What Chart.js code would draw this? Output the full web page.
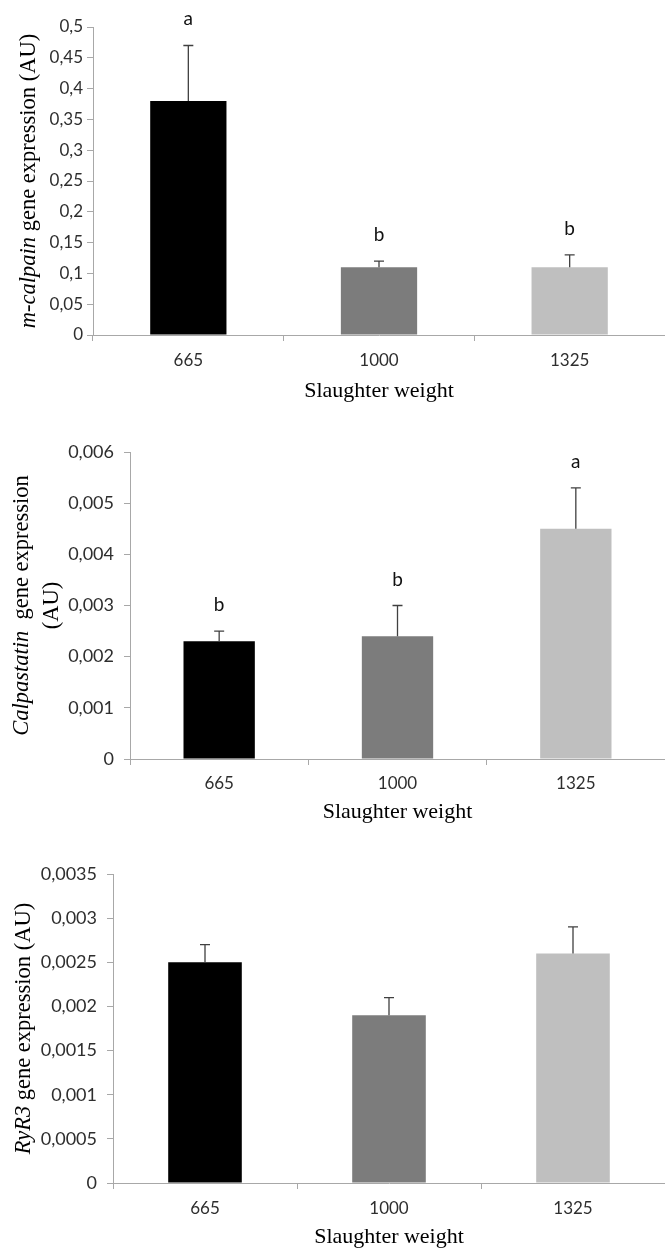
<!DOCTYPE html>
<html>
<head>
<meta charset="utf-8">
<script src="https://cdn.jsdelivr.net/npm/chart.js@4.4.1/dist/chart.umd.min.js"></script>
<style>
  body { margin: 0; background: #fff; width: 665px; height: 1250px; position: relative; overflow: hidden; }
  .panel { position: absolute; left: 0; width: 665px; }
</style>
</head>
<body>
<div class="panel" style="top:0;height:405px"><canvas id="calpain"></canvas></div>
<div class="panel" style="top:405px;height:435px"><canvas id="calpastatin"></canvas></div>
<div class="panel" style="top:840px;height:410px"><canvas id="ryr3"></canvas></div>
<script>
// Slaughter weight groups
const categories = ['665', '1000', '1325'];
const barColors = ['#000000', '#7c7c7c', '#bfbfbf'];

// m-calpain
const calpainMeans = [0.38, 0.11, 0.11];
const calpainSE = [0.09, 0.01, 0.02];
const calpainLetters = ['a', 'b', 'b'];
const calpainTicks = ['0', '0,05', '0,1', '0,15', '0,2', '0,25', '0,3', '0,35', '0,4', '0,45', '0,5'];

// Calpastatin
const calpastatinMeans = [0.0023, 0.0024, 0.0045];
const calpastatinSE = [0.0002, 0.0006, 0.0008];
const calpastatinLetters = ['b', 'b', 'a'];
const calpastatinTicks = ['0', '0,001', '0,002', '0,003', '0,004', '0,005', '0,006'];

// RyR3
const ryr3Means = [0.0025, 0.0019, 0.0026];
const ryr3SE = [0.0002, 0.0002, 0.0003];
const ryr3Letters = ['', '', ''];
const ryr3Ticks = ['0', '0,0005', '0,001', '0,0015', '0,002', '0,0025', '0,003', '0,0035'];

const AXIS = '#a8a8a8';
const TICK_TEXT = '#2e2e2e';
const SANS = 'Lato, "Open Sans", sans-serif';
const SERIF = '"Liberation Serif", "Times New Roman", serif';

function makeChart(id, o) {
	// error bars + significance letters
	const extras = {
		id: 'extras',
		afterDatasetsDraw(chart) {
			const { ctx } = chart;
			const y = chart.scales.y;
			chart.getDatasetMeta(0).data.forEach((bar, i) => {
				const base = y.getPixelForValue(o.means[i]);
				const top = y.getPixelForValue(o.means[i] + o.se[i]);
				ctx.save();
				ctx.strokeStyle = '#404040';
				ctx.lineWidth = 1.3;
				ctx.beginPath();
				ctx.moveTo(bar.x, base);
				ctx.lineTo(bar.x, top);
				ctx.moveTo(bar.x - 5, top);
				ctx.lineTo(bar.x + 5, top);
				ctx.stroke();
				if (o.letters[i]) {
					ctx.fillStyle = '#111';
					ctx.font = `19px ${SANS}`;
					ctx.textAlign = 'center';
					ctx.textBaseline = 'alphabetic';
					ctx.fillText(o.letters[i], bar.x, top - 20);
				}
				ctx.restore();
			});
		}
	};

	// y title with italic gene name
	const yTitle = {
		id: 'yTitle',
		afterDraw(chart) {
			const { ctx, chartArea } = chart;
			const cy = (chartArea.top + chartArea.bottom) / 2;
			o.yTitle.forEach((segs, li) => {
				ctx.save();
				ctx.translate(o.yTitleX[li], cy);
				ctx.rotate(-Math.PI / 2);
				ctx.fillStyle = '#000';
				ctx.textBaseline = 'middle';
				ctx.textAlign = 'left';
				const fonts = segs.map(s => `${s.italic ? 'italic ' : ''}${o.yTitleSize}px ${SERIF}`);
				const widths = segs.map((s, i) => { ctx.font = fonts[i]; return ctx.measureText(s.text).width; });
				let x = -widths.reduce((a, b) => a + b, 0) / 2;
				segs.forEach((s, i) => {
					ctx.font = fonts[i];
					ctx.fillText(s.text, x, 0);
					x += widths[i];
				});
				ctx.restore();
			});
		}
	};

	return new Chart(document.getElementById(id), {
		type: 'bar',
		data: {
			labels: categories,
			datasets: [{
				data: o.means,
				backgroundColor: barColors,
				borderWidth: 0,
				barPercentage: 0.4,
				categoryPercentage: 1
			}]
		},
		options: {
			responsive: true,
			maintainAspectRatio: false,
			animation: false,
			layout: { padding: { top: o.plotTop, right: -3, left: 0, bottom: 0 } },
			plugins: { legend: { display: false }, tooltip: { enabled: false } },
			scales: {
				x: {
					afterFit: (s) => { s.height = o.xHeight; },
					grid: { offset: true, drawOnChartArea: false, tickLength: 6, color: AXIS },
					border: { color: AXIS, width: 1 },
					ticks: { color: TICK_TEXT, font: { family: SANS, size: 17, lineHeight: 1.2 }, padding: o.xPad },
					title: {
						display: true,
						text: 'Slaughter weight',
						color: '#000',
						font: { family: SERIF, size: 22, lineHeight: 1 },
						padding: { top: 0, bottom: o.titlePad }
					}
				},
				y: {
					min: 0,
					max: o.max,
					afterFit: (s) => { s.width = o.axisX; },
					grid: { drawOnChartArea: false, tickLength: 6, color: AXIS },
					border: { color: AXIS, width: 1 },
					ticks: {
						stepSize: o.step,
						padding: o.yPad,
						color: TICK_TEXT,
						font: { family: SANS, size: o.yTickSize },
						callback: (v, i) => o.ticks[i]
					}
				}
			}
		},
		plugins: [extras, yTitle]
	});
}

makeChart('calpain', {
	means: calpainMeans, se: calpainSE, letters: calpainLetters, ticks: calpainTicks,
	max: 0.5, step: 0.05,
	plotTop: 27, xHeight: 70, axisX: 93, xPad: 9, titlePad: 2.5, yPad: 4, yTickSize: 17,
	yTitle: [[{ text: 'm-calpain', italic: true }, { text: ' gene expression (AU)' }]],
	yTitleX: [29], yTitleSize: 22.5
});

makeChart('calpastatin', {
	means: calpastatinMeans, se: calpastatinSE, letters: calpastatinLetters, ticks: calpastatinTicks,
	max: 0.006, step: 0.001,
	plotTop: 47, xHeight: 81, axisX: 130, xPad: 8, titlePad: 16.5, yPad: 10, yTickSize: 18,
	yTitle: [[{ text: 'Calpastatin', italic: true }, { text: '  gene expression' }], [{ text: '(AU)' }]],
	yTitleX: [22, 52], yTitleSize: 22.5
});

makeChart('ryr3', {
	means: ryr3Means, se: ryr3SE, letters: ryr3Letters, ticks: ryr3Ticks,
	max: 0.0035, step: 0.0005,
	plotTop: 34, xHeight: 67, axisX: 113, xPad: 9, titlePad: 1.5, yPad: 10, yTickSize: 18,
	yTitle: [[{ text: 'RyR3', italic: true }, { text: ' gene expression (AU)' }]],
	yTitleX: [24], yTitleSize: 22.5
});
</script>
</body>
</html>
